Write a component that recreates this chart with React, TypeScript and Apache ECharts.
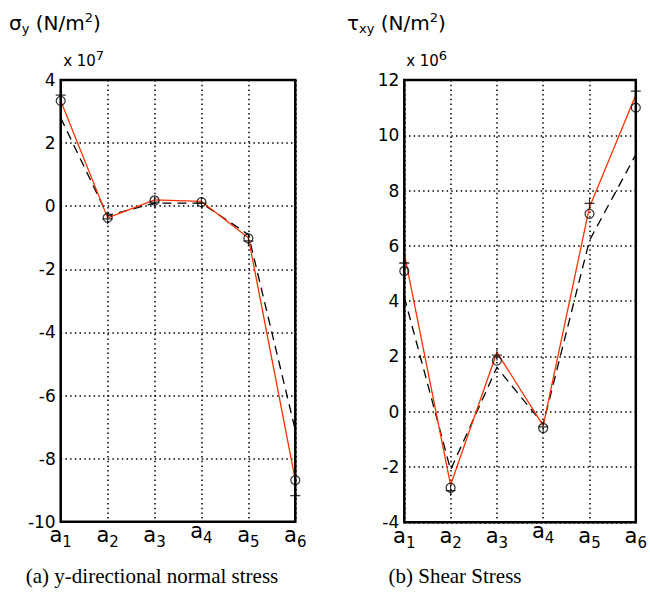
import React, { useEffect, useRef } from 'react';
import * as echarts from 'echarts';

const categories = ['a1', 'a2', 'a3', 'a4', 'a5', 'a6'];

// (a) sigma_y, units of 1e7 N/m^2
const sigmaPlus = [3.52, -0.4, 0.13, 0.1, -1.1, -9.17];
const sigmaCircle = [3.34, -0.37, 0.18, 0.13, -1.02, -8.68];
const sigmaRed = [3.34, -0.37, 0.2, 0.15, -1.0, -8.68];
const sigmaDashed = [2.8, -0.3, 0.1, 0.1, -0.9, -7.1];
const sigmaAxis = { min: -10, max: 4, interval: 2 };

// (b) tau_xy, units of 1e6 N/m^2
const tauPlus = [5.38, -2.85, 2.05, -0.55, 7.54, 11.6];
const tauCircle = [5.09, -2.75, 1.85, -0.59, 7.16, 11.0];
const tauRed = [5.72, -2.65, 2.15, -0.5, 7.4, 11.46];
const tauDashed = [4.15, -2.1, 1.6, -0.45, 6.2, 9.3];
const tauAxis = { min: -4, max: 12, interval: 2 };

const PLUS = 'path://M0,5L10,5M5,0L5,10';
const RED = '#ff3300';
const SANS = 'DejaVu Sans, Verdana, sans-serif';
const SERIF = 'Liberation Serif, Times New Roman, serif';

function catData() {
  return categories.map((c) =>
    c === 'a4'
      ? { value: c, textStyle: { verticalAlign: 'middle', padding: [20, 0, 0, 0] } }
      : { value: c }
  );
}

const gridLine = { show: true, lineStyle: { color: '#000', width: 1.5, type: [1.5, 3.2] } };

function xAxis(gridIndex: number) {
  return {
    type: 'category',
    gridIndex,
    data: catData(),
    boundaryGap: false,
    axisLine: { show: false },
    axisTick: { show: false },
    splitLine: gridLine,
    axisLabel: {
      margin: -1,
      interval: 0,
      color: '#000',
      formatter: (v: string) => `{a|${v.charAt(0)}}{s|${v.slice(1)}}`,
      rich: {
        a: { fontSize: 21, fontFamily: SANS, color: '#000', lineHeight: 26 },
        s: { fontSize: 15, fontFamily: SANS, color: '#000', padding: [14, 0, 0, 0] },
      },
    },
  };
}

function yAxis(gridIndex: number, ax: { min: number; max: number; interval: number }) {
  return {
    type: 'value',
    gridIndex,
    min: ax.min,
    max: ax.max,
    interval: ax.interval,
    axisLine: { show: false },
    axisTick: { show: false },
    splitLine: gridLine,
    axisLabel: { margin: 5, fontSize: 17, fontFamily: SANS, color: '#000' },
  };
}

function seriesFor(idx: number, red: number[], dashed: number[], plus: number[], circ: number[]) {
  return [
    {
      type: 'line', xAxisIndex: idx, yAxisIndex: idx, data: dashed, symbol: 'none', z: 2,
      lineStyle: { color: '#000', width: 1.3, type: [9, 6] },
    },
    {
      type: 'line', xAxisIndex: idx, yAxisIndex: idx, data: red, symbol: 'none', z: 3,
      lineStyle: { color: RED, width: 1.3 },
    },
    {
      type: 'scatter', xAxisIndex: idx, yAxisIndex: idx, data: plus, symbol: PLUS, symbolSize: [10, 11], z: 4,
      itemStyle: { color: 'transparent', borderColor: '#000', borderWidth: 1.2 },
    },
    {
      type: 'scatter', xAxisIndex: idx, yAxisIndex: idx, data: circ, symbol: 'circle', symbolSize: 9, z: 4,
      itemStyle: { color: 'transparent', borderColor: '#000', borderWidth: 1.2 },
    },
  ];
}

export default function App() {
  const ref = useRef<HTMLDivElement>(null);
  useEffect(() => {
    if (!ref.current) return;
    const chart = echarts.init(ref.current, undefined, { renderer: 'svg' });
    const titleRich = {
      b: { fontSize: 20, fontFamily: SANS, color: '#000' },
      s: { fontSize: 13, fontFamily: SANS, color: '#000', padding: [11, 0, 0, 0] },
      p: { fontSize: 13, fontFamily: SANS, color: '#000', padding: [0, 0, 11, 0] },
    };
    const expRich = {
      t: { fontSize: 15, fontFamily: SANS, color: '#000' },
      p: { fontSize: 13, fontFamily: SANS, color: '#000', padding: [0, 0, 11, 0] },
    };
    chart.setOption({
      animation: false,
      backgroundColor: '#fff',
      grid: [
        { left: 60.7, top: 80, width: 234.6, height: 441.7, show: true, borderColor: '#000', borderWidth: 2.5, backgroundColor: 'transparent', z: 5 },
        { left: 404.3, top: 80, width: 234.4, height: 442.3, show: true, borderColor: '#000', borderWidth: 2.5, backgroundColor: 'transparent', z: 5 },
      ],
      xAxis: [xAxis(0), xAxis(1)],
      yAxis: [yAxis(0, sigmaAxis), yAxis(1, tauAxis)],
      series: [
        ...seriesFor(0, sigmaRed, sigmaDashed, sigmaPlus, sigmaCircle),
        ...seriesFor(1, tauRed, tauDashed, tauPlus, tauCircle),
      ],
      graphic: [
        { type: 'text', left: 9, top: 11, style: { text: '{b|σ}{s|y}{b| (N/m}{p|2}{b|)}', rich: titleRich } },
        { type: 'text', left: 347, top: 11, style: { text: '{b|τ}{s|xy}{b| (N/m}{p|2}{b|)}', rich: titleRich } },
        { type: 'text', left: 59, top: 49, style: { text: '{p| }{t|x 10}{p|7}', rich: expRich } },
        { type: 'text', left: 402, top: 49, style: { text: '{p| }{t|x 10}{p|6}', rich: expRich } },
        { type: 'text', x: 152, y: 565, style: { text: '(a) y-directional normal stress', fontSize: 21, fontFamily: SERIF, fill: '#000', align: 'center', verticalAlign: 'top' } },
        { type: 'text', x: 455, y: 565, style: { text: '(b) Shear Stress', fontSize: 21, fontFamily: SERIF, fill: '#000', align: 'center', verticalAlign: 'top' } },
      ],
    });
    return () => chart.dispose();
  }, []);
  return <div ref={ref} style={{ position: 'fixed', left: 0, top: 0, width: 650, height: 592 }} />;
}
